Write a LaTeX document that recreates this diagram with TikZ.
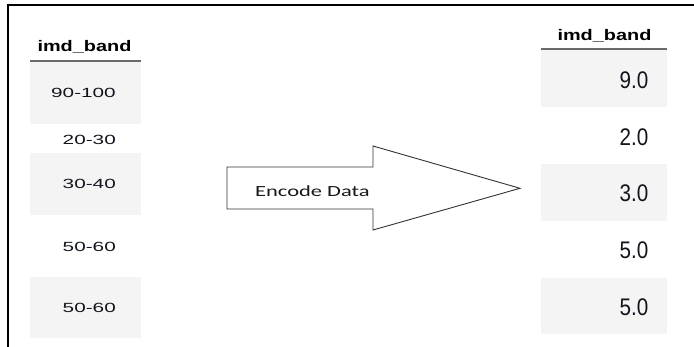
\documentclass[tikz,border=0pt]{standalone}
\usepackage{fontspec}
\usepackage{graphicx}
\setmainfont{Liberation Sans}
\newfontfamily\calib{Carlito}
\definecolor{rowgray}{HTML}{F4F4F4}
\definecolor{rulegray}{HTML}{6A6A6A}
\definecolor{valtext}{HTML}{14141E}
\definecolor{arrowline}{HTML}{333333}
\tikzset{
  rowband/.style={fill=rowgray, draw=none},
  headrule/.style={draw=rulegray, line width=2pt},
  framerule/.style={draw=black, line width=2pt},
  hdr/.style={inner sep=0pt, anchor=base, text=black,
    font=\fontsize{15.3}{16}\selectfont\bfseries},
  leftval/.style={inner sep=0pt, anchor=base east, text=valtext,
    font=\fontsize{13.3}{14}\selectfont},
  rightval/.style={inner sep=0pt, anchor=base east, text=valtext,
    font=\fontsize{24}{25}\selectfont},
  arrowbody/.style={draw=arrowline, line width=0.9pt, fill=white, line join=miter},
  arrowtext/.style={inner sep=0pt, anchor=base west, text=black!90,
    font=\calib\fontsize{15.5}{16}\selectfont}
}
\newcommand{\wideL}[1]{\scalebox{1.56}[1]{#1}}
\newcommand{\wideH}[1]{\scalebox{1.3}[1]{#1}}
\newcommand{\narrowR}[1]{\scalebox{0.86}[1]{#1}}
\begin{document}
\begin{tikzpicture}[x=1pt, y=-1pt]
  \useasboundingbox (0,0) rectangle (694,347);
  \fill[white] (0,0) rectangle (694,347);

  % outer frame: top and left edges only
  \coordinate (frameTL) at (7.7,5.5);
  \coordinate (frameTR) at (694,5.5);
  \coordinate (frameBL) at (7.7,347);
  \draw[framerule] (frameBL) -- (frameTL) -- (frameTR);

  % ---- left table (band ranges) ----
  \fill[rowband] (30,62) rectangle (141,124);
  \fill[rowband] (30,153) rectangle (141,215);
  \fill[rowband] (30,277) rectangle (141,338);
  \draw[headrule] (30,61.5) -- (141,61.5);
  \node[hdr] (lhead) at (84.5,51.7) {\wideH{imd\_band}};
  \node[leftval] (l1) at (116,98) {\wideL{90-100}};
  \node[leftval] (l2) at (116,145) {\wideL{20-30}};
  \node[leftval] (l3) at (116,188.5) {\wideL{30-40}};
  \node[leftval] (l4) at (116,251.5) {\wideL{50-60}};
  \node[leftval] (l5) at (116,313) {\wideL{50-60}};

  % ---- block arrow ----
  \draw[arrowbody] (227,167) -- (373,167) -- (373,146) -- (520,188.3)
    -- (373,230) -- (373,209) -- (227,209) -- cycle;
  \node[arrowtext] (enc) at (255,196.7) {\scalebox{1.45}[1]{Encode Data}};

  % ---- right table (encoded values) ----
  \fill[rowband] (541,50) rectangle (667,107);
  \fill[rowband] (541,164) rectangle (667,221);
  \fill[rowband] (541,278) rectangle (667,334);
  \draw[headrule] (541,49.5) -- (667,49.5);
  \node[hdr] (rhead) at (604.5,40.5) {\wideH{imd\_band}};
  \node[rightval] (r1) at (648.5,88.3) {\narrowR{9.0}};
  \node[rightval] (r2) at (648.5,145.5) {\narrowR{2.0}};
  \node[rightval] (r3) at (648.5,202) {\narrowR{3.0}};
  \node[rightval] (r4) at (648.5,259) {\narrowR{5.0}};
  \node[rightval] (r5) at (648.5,316) {\narrowR{5.0}};
\end{tikzpicture}
\end{document}
